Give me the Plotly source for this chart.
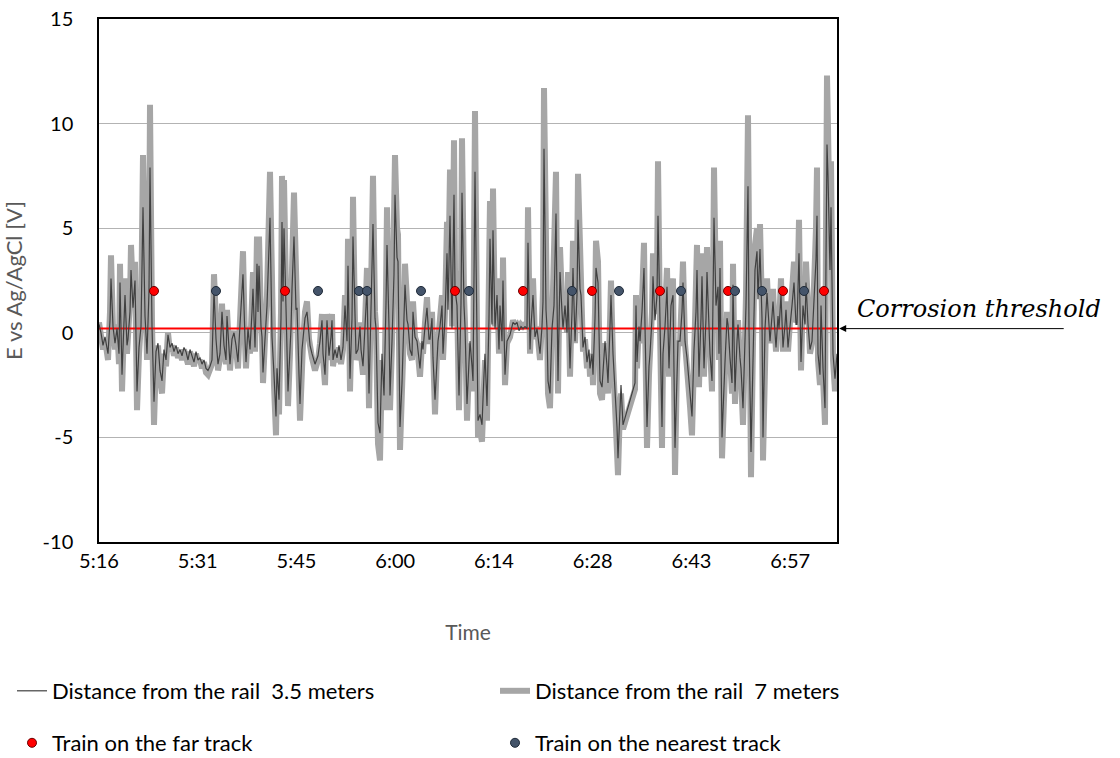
import pandas as pd
import plotly.graph_objects as go

# Logger settings: record numbers counted from the first sample
LOG_START = pd.Timestamp("2000-01-01 05:16:48")
LOG_STEP_S = 8.75
THRESHOLD_V = 0.2

record = [
    0, 2, 4, 6, 9, 11, 12, 14, 16, 18,
    20, 21, 23, 25, 26, 28, 29, 31, 32, 34,
    36, 38, 40, 42, 44, 46, 48, 50, 51, 53,
    55, 57, 59, 61, 63, 65, 67, 69, 71, 73,
    75, 77, 79, 81, 83, 85, 87, 89, 91, 93,
    95, 97, 99, 101, 103, 105, 107, 109, 111, 113,
    115, 117, 119, 121, 123, 125, 127, 128, 131, 133,
    135, 137, 139, 141, 143, 144, 146, 147, 149, 151,
    153, 154, 156, 158, 159, 160, 162, 163, 164, 166,
    168, 171, 173, 175, 177, 178, 180, 182, 183, 184,
    185, 187, 189, 191, 192, 193, 195, 197, 198, 200,
    201, 203, 204, 206, 208, 210, 211, 213, 216, 219,
    221, 223, 224, 226, 228, 230, 232, 233, 234, 236,
    238, 240, 242, 244, 246, 248, 249, 251, 253, 254,
    256, 257, 259, 261, 262, 264, 266, 268, 270, 272,
    274, 276, 277, 279, 281, 283, 285, 287, 288, 290,
    291, 293, 295, 296, 298, 299, 301, 303, 304, 306,
    308, 309, 311, 313, 314, 316, 318, 320, 321, 323,
    324, 326, 328, 330, 331, 333, 334, 336, 338, 339,
    341, 343, 344, 346, 348, 349, 351, 353, 355, 356,
    358, 360, 362, 363, 365, 366, 368, 370, 371, 373,
    374, 376, 378, 379, 381, 383, 385, 386, 388, 390,
    391, 393, 394, 396, 398, 400, 401, 403, 404, 406,
    408, 411, 414, 416, 418, 420, 422, 424, 426, 428,
    429, 431, 432, 434, 436, 438, 440, 441, 443, 444,
    445, 447, 448, 449, 451, 453, 455, 457, 459, 461,
    463, 464, 466, 468, 469, 471, 473, 474, 476, 478,
    479, 481, 482, 484, 486, 488, 490, 491, 493, 494,
    496, 497, 499, 501, 503, 505, 506, 508, 509, 511,
    512, 514, 516, 518, 519, 521, 522, 524, 536, 537,
    538, 540, 541, 543, 545, 546, 548, 550, 551, 553,
    554, 556, 558, 559, 561, 563, 564, 566, 568, 570,
    572, 574, 576, 578, 579, 581, 583, 584, 586, 588,
    589, 591, 593, 595, 597, 598, 600, 602, 603, 605,
    607, 608, 610, 611, 613, 614, 615, 617, 619, 620,
    621, 623, 625, 626, 628, 629, 631, 633, 634, 636,
    638, 639, 641, 642, 644, 646, 647, 649, 650, 652,
    654, 656, 658, 659, 661, 663, 664, 666, 668, 670,
    671, 673, 674, 676, 677, 679, 680, 682, 684, 686,
    687, 689, 691, 693, 695, 697, 698, 700, 702, 704,
    706, 707, 709, 711, 713, 715, 717, 718, 719, 721,
    722, 724, 726, 727, 728, 729, 731, 732, 734, 736,
    738,
]

# Potential of the electrode 7 m from the rail [V]
e_7m = [
    0.5, -0.2, -0.8, -0.3, -1.3, 1.0, 3.7, 0.2, -0.8, 0.4,
    -1.5, 3.3, -2.8, 0.3, 2.6, -1.0, -0.4, 1.5, 4.2, 1.8,
    3.4, -3.7, -1.0, 0.5, 8.5, 1.0, -1.3, 3.0, 10.9, 0.5,
    -4.4, -1.2, -0.6, -2.2, -2.9, -1.0, -1.6, 0.0, -0.9, -0.6,
    -1.1, -0.7, -1.2, -0.9, -1.3, -0.8, -1.1, -1.5, -0.9, -1.2,
    -1.6, -1.0, -1.4, -1.3, -1.7, -1.4, -1.9, -2.0, -1.8, -1.5,
    2.8, -0.3, -1.8, -1.2, 1.4, -0.8, -1.5, 1.1, -1.8, -0.4,
    0.1, -0.8, -1.7, 0.6, 2.5, 3.9, -0.5, -1.7, 0.3, -1.0,
    1.5, 2.9, -0.9, 4.6, 1.5, 4.6, 0.5, -0.2, -2.4, -0.5,
    1.8, 7.7, -0.3, -2.5, -4.9, -2.1, -3.9, 1.0, 7.5, 2.0,
    7.3, 1.8, -3.5, -1.0, 0.3, 3.0, 6.7, 1.5, 1.8, -2.5,
    -4.2, -1.0, -0.5, 1.0, 1.5, -0.3, -0.8, -1.2, -1.8, -1.3,
    -0.5, 0.9, -1.2, -2.5, 0.9, -1.3, -0.2, 0.9, -1.6, -0.9,
    -1.4, -0.7, -1.5, -0.8, 1.8, -0.5, 4.5, -2.8, 1.0, 6.5,
    0.5, -1.3, -0.9, 0.5, -1.0, -2.0, 0.5, 3.1, -3.6, 1.0,
    7.5, 1.0, 0.3, -5.3, -6.1, -1.3, -3.7, 2.0, 6.0, 0.5,
    -3.7, -0.5, 4.0, 8.5, 5.0, 4.7, -5.6, -3.0, -1.3, 3.3,
    0.8, 0.6, -1.0, -1.3, 1.5, -0.2, -0.5, -1.8, -2.1, -0.5,
    -1.0, 0.5, 1.7, -0.4, -0.4, 1.0, -1.5, -3.9, -1.0, -0.5,
    0.5, 1.8, -1.3, 1.0, 5.3, 1.5, 7.8, 0.3, 9.2, 3.0,
    1.8, -3.7, 2.0, 9.3, 1.8, 0.5, -4.2, -1.5, -0.5, -2.0,
    -2.8, 10.6, 1.8, -5.0, -4.7, -5.2, -2.5, -1.3, -4.2, 1.0,
    6.3, 0.5, 6.9, 0.3, 2.6, -1.0, 1.8, -0.5, 3.6, -2.5,
    -0.5, -0.2, 0.6, 0.3, 0.4, 0.2, 0.4, 0.3, 0.4, 0.3,
    6.0, -1.0, 0.5, 2.6, -0.3, 0.3, -0.8, -1.3, 0.5, 2.1,
    11.7, 1.5, 0.3, -2.9, -3.6, 0.3, 1.8, 7.7, -2.9, 4.1,
    1.5, 0.3, 1.8, 0.0, 2.9, -2.1, 1.5, 4.4, -0.5, 2.5,
    7.6, 3.0, 2.6, -0.9, -0.3, -1.7, -1.0, -2.1, -1.2, -2.5,
    1.0, 4.4, 3.4, -2.9, -3.2, -1.5, -0.5, -2.0, -2.9, 0.5,
    2.5, -1.3, -3.0, -5.3, -6.8, -3.5, -2.9, -4.6, -2.7, 1.8,
    -1.7, 0.5, -0.5, 1.5, 4.3, 0.5, -5.5, -2.0, -1.3, 1.0,
    3.8, 0.9, 2.5, 8.2, 0.3, -5.5, -1.3, 0.5, 3.1, -2.1,
    1.8, 2.6, -6.8, -1.5, -0.5, -0.5, 1.5, 3.4, -0.5, -1.5,
    -2.1, -3.5, -4.9, -1.0, 1.5, 4.2, -2.6, 1.0, 3.8, -2.1,
    1.0, 4.1, 0.5, -1.3, -2.8, 2.0, 7.9, 1.8, 3.1, -1.3,
    4.4, -6.0, -2.5, -1.7, 1.0, 0.6, -1.5, -2.9, 3.3, -3.4,
    -0.5, 0.6, -1.5, -2.1, -4.4, -0.5, 1.8, 10.4, 0.3, -6.9,
    -0.5, 4.2, 5.0, 2.0, 5.2, 1.0, -6.1, 0.3, 2.6, 0.5,
    -0.5, 1.0, 2.1, 0.0, -0.9, 1.0, 0.3, 2.6, -0.9, 0.5,
    1.5, -0.9, 0.3, 1.8, 3.4, 0.5, 0.6, 5.4, -1.8, 1.8,
    0.5, 3.4, 0.6, -1.0, -0.5, 1.8, 5.0, 7.9, -1.3, -2.5,
    1.8, -2.1, -4.4, 5.0, 12.3, 9.8, 4.0, 8.2, -1.3, -2.8,
    -1.3,
]

# Potential of the electrode 3.5 m from the rail [V]
e_3_5m = [
    0.4, 0.0, -0.6, -0.2, -1.0, 0.6, 2.6, 0.3, -0.5, 0.2,
    -1.0, 2.4, -2.0, 0.1, 1.8, -0.6, -0.3, 1.0, 3.0, 1.2,
    2.5, -2.8, -0.7, 0.3, 6.0, 0.8, -1.0, 2.0, 7.9, 0.3,
    -3.3, -0.9, -0.5, -1.8, -2.3, -0.8, -1.3, -0.1, -0.7, -0.5,
    -0.9, -0.6, -1.0, -0.8, -1.1, -0.7, -0.9, -1.3, -0.8, -1.1,
    -1.4, -0.9, -1.3, -1.2, -1.5, -1.3, -1.7, -1.8, -1.6, -1.3,
    2.0, -0.3, -1.5, -1.0, 1.0, -0.6, -1.3, 0.8, -1.5, -0.3,
    0.0, -0.6, -1.4, 0.4, 1.8, 2.8, -0.3, -1.4, 0.2, -0.8,
    1.0, 2.1, -0.7, 3.3, 1.0, 3.2, 0.3, -0.2, -1.9, -0.4,
    1.3, 5.5, -0.2, -2.0, -4.0, -1.7, -3.2, 0.7, 5.3, 1.5,
    5.0, 1.2, -2.8, -0.8, 0.2, 2.1, 4.6, 1.1, 1.2, -2.0,
    -3.4, -0.8, -0.4, 0.7, 1.0, -0.3, -0.6, -1.0, -1.5, -1.1,
    -0.4, 0.6, -1.0, -2.0, 0.6, -1.1, -0.2, 0.6, -1.3, -0.8,
    -1.2, -0.6, -1.3, -0.7, 1.3, -0.4, 3.2, -2.2, 0.7, 4.6,
    0.3, -1.0, -0.8, 0.3, -0.8, -1.6, 0.3, 2.2, -2.9, 0.7,
    5.2, 0.7, 0.2, -4.3, -4.8, -1.0, -3.0, 1.4, 4.2, 0.3,
    -3.0, -0.4, 2.8, 6.6, 3.6, 3.4, -4.5, -2.4, -1.0, 2.3,
    0.6, 0.4, -0.8, -1.1, 1.0, -0.2, -0.4, -1.5, -1.7, -0.4,
    -0.8, 0.3, 1.2, -0.3, -0.3, 0.7, -1.2, -3.2, -0.8, -0.4,
    0.3, 1.3, -1.0, 0.7, 3.8, 1.1, 5.6, 0.2, 6.6, 2.1,
    1.3, -3.0, 1.4, 6.7, 1.3, 0.3, -3.4, -1.2, -0.4, -1.6,
    -2.3, 7.7, 1.3, -4.2, -3.9, -4.4, -2.0, -1.0, -3.5, 0.7,
    4.5, 0.4, 4.9, 0.2, 1.8, -0.8, 1.3, -0.4, 2.5, -2.0,
    -0.4, -0.1, 0.5, 0.4, 0.5, 0.1, 0.3, 0.2, 0.3, 0.2,
    4.3, -0.8, 0.3, 1.8, -0.2, 0.2, -0.6, -1.0, 0.3, 1.5,
    8.8, 1.1, 0.2, -2.3, -2.9, 0.2, 1.3, 5.7, -2.3, 2.9,
    1.0, 0.2, 1.3, 0.0, 2.0, -1.7, 1.0, 3.1, -0.4, 1.8,
    5.4, 2.1, 1.8, -0.7, -0.2, -1.4, -0.8, -1.7, -1.0, -2.0,
    0.7, 3.1, 2.4, -2.3, -2.6, -1.2, -0.4, -1.6, -2.4, 0.3,
    1.8, -1.0, -2.5, -4.5, -6.0, -3.0, -2.5, -4.4, -2.4, 1.3,
    -1.4, 0.3, -0.4, 1.0, 3.1, 0.3, -4.5, -1.6, -1.0, 0.7,
    2.7, 0.6, 1.8, 5.6, 0.2, -4.5, -1.0, 0.3, 2.2, -1.7,
    1.3, 1.8, -5.5, -1.2, -0.4, -0.4, 1.0, 2.4, -0.4, -1.2,
    -1.7, -2.8, -4.0, -0.8, 1.0, 3.0, -2.1, 0.7, 2.7, -1.7,
    0.7, 2.9, 0.3, -1.0, -2.3, 1.4, 5.5, 1.3, 2.2, -1.0,
    3.1, -5.0, -2.0, -1.4, 0.7, 0.4, -1.2, -2.4, 2.3, -2.8,
    -0.4, 0.4, -1.2, -1.7, -3.6, -0.4, 1.3, 7.0, 0.2, -5.7,
    -0.4, 3.0, 3.9, 1.6, 4.0, 0.7, -5.0, 0.2, 1.9, 0.4,
    -0.4, 0.8, 1.5, 0.0, -0.7, 0.8, 0.2, 1.8, -0.7, 0.4,
    1.1, -0.7, 0.2, 1.3, 2.4, 0.4, 0.4, 3.8, -1.4, 1.3,
    0.4, 2.4, 0.4, -0.8, -0.4, 1.3, 3.5, 5.6, -1.0, -2.0,
    1.3, -1.7, -3.6, 3.5, 9.0, 7.5, 3.0, 6.0, -1.0, -2.2,
    -1.0,
]

# Train passages (record numbers), plotted at a fixed marker level
far_track_records = [55, 186, 356, 424, 493, 561, 629, 684, 725]
near_track_records = [117, 219, 260, 268, 322, 370, 473, 520, 582, 636, 663, 705]
TRAIN_MARK_V = 2.0

y_ticks = [-10, -5, 0, 5, 10, 15]
y_tick_labels = ["-10", "-5", "0", "5", "10", "15"]

LABEL_3_5M = "Distance from the rail\u00a0 3.5 meters"
LABEL_7M = "Distance from the rail\u00a0 7 meters"
LABEL_FAR = "Train on the far track"
LABEL_NEAR = "Train on the nearest track"


def to_time(recs):
    return LOG_START + pd.to_timedelta([r * LOG_STEP_S for r in recs], unit="s")


t = to_time(record)
t_end = LOG_START + pd.Timedelta(seconds=738 * LOG_STEP_S)

FONT = "Lato, 'Open Sans', sans-serif"

fig = go.Figure()

fig.add_trace(go.Scatter(
    x=t, y=e_7m, mode="lines", name=LABEL_7M,
    line=dict(color="#a6a6a6", width=6), legend="legend2",
))
fig.add_trace(go.Scatter(
    x=[LOG_START, t_end], y=[THRESHOLD_V, THRESHOLD_V], mode="lines",
    line=dict(color="#ff0000", width=2), showlegend=False, hoverinfo="skip",
))
fig.add_trace(go.Scatter(
    x=t, y=e_3_5m, mode="lines", name=LABEL_3_5M,
    line=dict(color="#404040", width=1.2), legend="legend",
))
fig.add_trace(go.Scatter(
    x=to_time(far_track_records), y=[TRAIN_MARK_V] * len(far_track_records),
    mode="markers", name=LABEL_FAR,
    marker=dict(color="#ff0000", size=9, line=dict(color="#6b0000", width=1)),
    legend="legend3",
))
fig.add_trace(go.Scatter(
    x=to_time(near_track_records), y=[TRAIN_MARK_V] * len(near_track_records),
    mode="markers", name=LABEL_NEAR,
    marker=dict(color="#44546a", size=9, line=dict(color="#1f2a38", width=1)),
    legend="legend4",
))

# Arrow pointing at the threshold line, with its caption
fig.add_annotation(
    x=1.003, xref="paper", y=THRESHOLD_V, yref="y",
    ax=226, ay=0, axref="pixel", ayref="pixel",
    text="", showarrow=True, arrowhead=2, arrowsize=1.4, arrowwidth=1,
    arrowcolor="#000000",
)
fig.add_annotation(
    x=1.025, xref="paper", y=THRESHOLD_V, yref="y", yshift=4,
    xanchor="left", yanchor="bottom", showarrow=False,
    text="<i>Corrosion threshold</i>",
    font=dict(family="DejaVu Serif", size=24, color="#000000"),
)


def legend_at(x_px, y_px):
    return dict(
        orientation="h", xref="container", yref="container",
        x=x_px / 1120, y=1 - y_px / 758, xanchor="left", yanchor="middle",
        font=dict(family=FONT, size=22, color="#000000"),
        bgcolor="rgba(0,0,0,0)", itemclick=False,
    )


fig.update_layout(
    width=1120, height=758,
    margin=dict(l=99, r=283, t=19, b=216),
    paper_bgcolor="white", plot_bgcolor="white",
    font=dict(family=FONT, color="#000000"),
    showlegend=True,
    legend=legend_at(12, 691),
    legend2=legend_at(495, 691),
    legend3=legend_at(12, 743),
    legend4=legend_at(495, 743),
    xaxis=dict(
        range=[LOG_START, t_end], automargin=False,
        tick0=LOG_START, dtick=864000, tickformat="%-H:%M",
        showgrid=False, zeroline=False,
        showline=True, linecolor="#000000", linewidth=1.5, mirror=True,
        ticks="", tickfont=dict(family=FONT, size=20, color="#000000"),
        title=dict(text="Time", standoff=55,
                   font=dict(family=FONT, size=21, color="#595959")),
    ),
    yaxis=dict(
        range=[-10, 15], automargin=False,
        tickmode="array", tickvals=y_ticks, ticktext=y_tick_labels,
        showgrid=True, gridcolor="#b3b3b3", gridwidth=1, zeroline=False,
        showline=True, linecolor="#000000", linewidth=1.5, mirror=True,
        ticks="", ticklabelstandoff=20,
        tickfont=dict(family=FONT, size=20, color="#000000"),
        title=dict(text="E vs Ag/AgCl [V]", standoff=26,
                   font=dict(family=FONT, size=22, color="#595959")),
    ),
)

fig.write_html("out.html")
